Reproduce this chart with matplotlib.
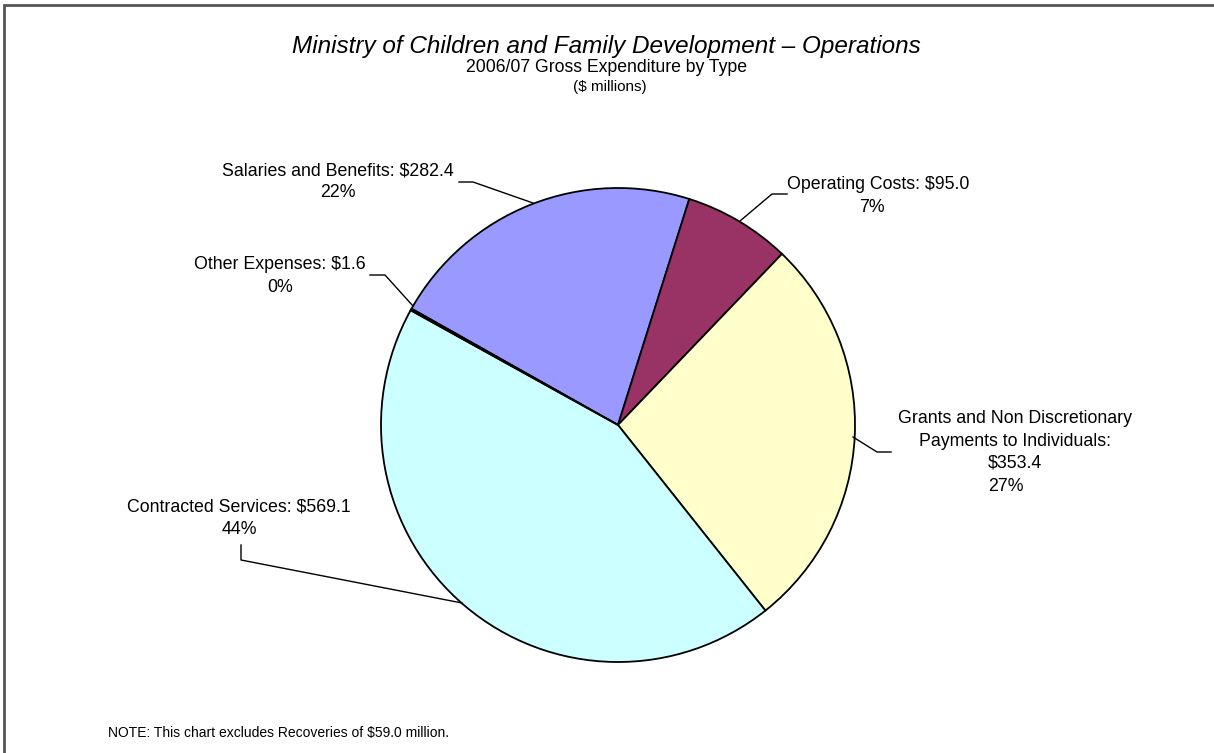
import matplotlib.pyplot as plt
from matplotlib.patches import Rectangle

plt.rcParams['font.family'] = ['Liberation Sans', 'DejaVu Sans']

categories = ["Salaries and Benefits", "Operating Costs",
              "Grants and Non Discretionary Payments to Individuals",
              "Contracted Services", "Other Expenses"]
amounts = [282.4, 95.0, 353.4, 569.1, 1.6]
colors = ["#9999FF", "#993366", "#FFFFCC", "#CCFFFF", "#660066"]

W, H = 1214, 753
fig = plt.figure(figsize=(W / 100, H / 100), dpi=100)
ax = fig.add_axes([0, 0, 1, 1])


def Y(y):
    # pixel row (from top) -> data y
    return H - y


ax.pie(amounts, colors=colors, startangle=150.6, counterclock=False,
       radius=237, center=(618, Y(425)),
       wedgeprops=dict(edgecolor="black", linewidth=1.3))
ax.set_xlim(0, W)
ax.set_ylim(0, H)
ax.set_aspect("auto")
ax.axis("off")

# outer border (only top and left fall inside the picture)
ax.add_patch(Rectangle((4, -10), W + 20, Y(5) + 10, fill=False,
                       edgecolor="#555555", linewidth=2))

ax.text(606, Y(46), "Ministry of Children and Family Development \u2013 Operations",
        ha="center", va="center", fontsize=17.5, style="italic")
ax.text(607, Y(67), "2006/07 Gross Expenditure by Type",
        ha="center", va="center", fontsize=12.7)
ax.text(610, Y(87), "($ millions)", ha="center", va="center", fontsize=11)

pct = [round(a / sum(amounts) * 100) for a in amounts]
fs = 12.8

# label text lines: (x, y, text, ha)
labels = [
    [(338, 171, f"{categories[0]}: ${amounts[0]:.1f}", "center"),
     (338, 192, f"{pct[0]}%", "center")],
    [(878, 184, f"{categories[1]}: ${amounts[1]:.1f}", "center"),
     (872, 207, f"{pct[1]}%", "center")],
    [(1015, 418, "Grants and Non Discretionary", "center"),
     (1015, 441, "Payments to Individuals:", "center"),
     (1015, 463, f"${amounts[2]:.1f}", "center"),
     (988, 486, f"{pct[2]}%", "left")],
    [(239, 507, f"{categories[3]}: ${amounts[3]:.1f}", "center"),
     (239, 530, f"{pct[3]}%", "center")],
    [(280, 264, f"{categories[4]}: ${amounts[4]:.1f}", "center"),
     (280, 287, f"{pct[4]}%", "center")],
]
for lines in labels:
    for x, y, t, ha in lines:
        ax.text(x, Y(y), t, ha=ha, va="center", fontsize=fs)

leaders = [
    [(533, 203), (473, 182), (459, 182)],
    [(740, 221), (772, 194), (787, 194)],
    [(853, 437), (877, 452), (891, 452)],
    [(462, 603), (241, 560), (241, 545)],
    [(413, 306), (385, 275), (370, 275)],
]
for pts in leaders:
    ax.plot([p[0] for p in pts], [Y(p[1]) for p in pts], color="black", lw=1)

ax.text(108, Y(733), "NOTE: This chart excludes Recoveries of $59.0 million.",
        ha="left", va="center", fontsize=10)

fig.savefig("out.png", dpi=100)
